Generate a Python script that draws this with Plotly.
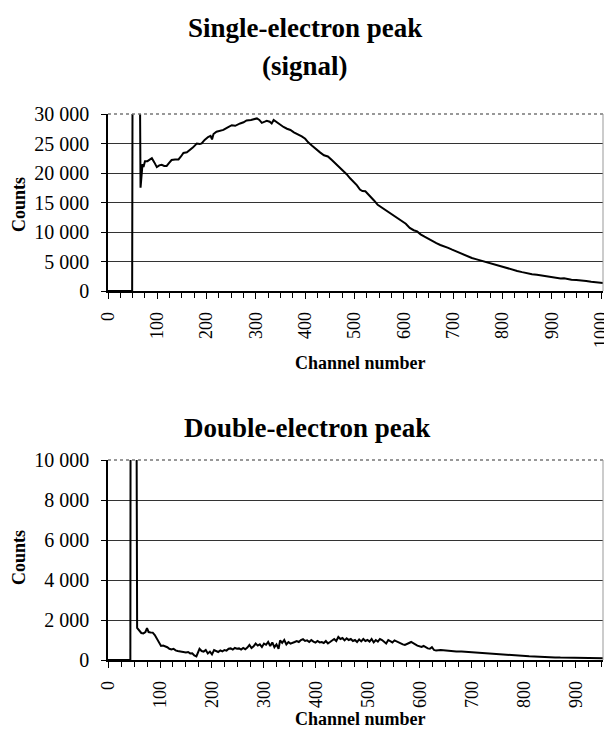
import plotly.graph_objects as go

# ---------------- data ----------------
single_channel = [0, 49, 50, 64, 66, 68, 70, 72, 75, 80, 85, 89, 94, 99, 104, 109, 114, 119, 124, 129,
                  136, 143, 148, 153, 160, 166, 172, 180, 186, 190, 196, 203, 208, 211, 214, 220, 227, 234,
                  242, 251, 258, 264, 268, 275, 281, 290, 296, 302, 307, 312, 318, 322, 328, 332, 336, 342,
                  349, 356, 363, 370, 377, 385, 393, 400, 406, 414, 422, 430, 438, 446, 454, 462, 470, 477,
                  484, 491, 498, 505, 511, 516, 522, 528, 534, 540, 547, 556, 563, 570, 578, 586, 595, 604,
                  612, 620, 627, 634, 642, 650, 658, 666, 674, 682, 690, 698, 706, 714, 722, 730, 738, 746,
                  754, 762, 772, 780, 790, 800, 810, 820, 830, 840, 850, 860, 870, 880, 890, 900, 910, 918,
                  925, 932, 940, 950, 960, 970, 980, 990, 1000, 1004]
single_counts = [0, 0, 45000, 45000, 17500, 20500, 21500, 21000, 22000, 22000, 22200, 22500, 21800, 21000,
                 21300, 21400, 21200, 21200, 21700, 22200, 22300, 22300, 22800, 23400, 23500, 23900, 24300,
                 25000, 24900, 25000, 25600, 26100, 26300, 25700, 26600, 27000, 27100, 27300, 27700, 28100,
                 28000, 28300, 28400, 28600, 28900, 29000, 29100, 29250, 29000, 28500, 28700, 28850, 28700,
                 28400, 29000, 28600, 28150, 27800, 27500, 27300, 26900, 26600, 26200, 25800, 25200, 24600,
                 24000, 23500, 23000, 22800, 22200, 21600, 20900, 20400, 19800, 19100, 18500, 17900, 17200,
                 16950, 16900, 16400, 15900, 15300, 14600, 14100, 13700, 13200, 12800, 12300, 11900, 11400,
                 10700, 10300, 10100, 9600, 9200, 8800, 8500, 8100, 7800, 7600, 7300, 7000, 6700, 6400, 6100,
                 5800, 5600, 5400, 5200, 5000, 4850, 4600, 4300, 4100, 3800, 3600, 3400, 3200, 3000, 2850,
                 2750, 2600, 2400, 2300, 2200, 2100, 2150, 2000, 1900, 1850, 1800, 1700, 1550, 1500, 1400, 1350]

double_channel = [0, 43, 44, 53, 56, 60, 64, 68, 72, 75, 78, 82, 86, 90, 94, 98, 102, 106, 110, 114, 118,
                  122, 126, 130, 134, 138, 142, 146, 150, 154, 158, 162, 166, 170, 173, 176, 180, 184, 188,
                  192, 196, 200, 204, 208, 212, 216, 220, 224, 228, 232, 236, 240, 244, 248, 252, 256, 260,
                  264, 268, 272, 276, 280, 284, 288, 292, 296, 300, 304, 308, 312, 316, 320, 324, 328, 331,
                  335, 339, 343, 347, 351, 355, 359, 363, 367, 371, 375, 379, 383, 387, 391, 395, 399, 403,
                  407, 411, 415, 419, 423, 427, 431, 435, 439, 443, 447, 451, 455, 459, 463, 467, 471, 475,
                  479, 483, 487, 491, 495, 499, 503, 507, 511, 515, 519, 523, 527, 531, 535, 539, 543, 547,
                  551, 555, 559, 563, 567, 571, 575, 579, 583, 587, 591, 595, 599, 603, 607, 611, 615, 619,
                  623, 627, 631, 640, 650, 660, 670, 680, 690, 700, 710, 720, 730, 740, 750, 760, 770, 780,
                  790, 800, 810, 820, 830, 840, 850, 860, 870, 880, 890, 900, 910, 920, 930, 940, 952]
double_counts = [0, 0, 30000, 30000, 1600, 1450, 1350, 1330, 1400, 1590, 1400, 1380, 1370, 1250, 1080, 850,
                 700, 720, 690, 640, 560, 530, 560, 480, 450, 430, 440, 400, 380, 400, 330, 340, 230, 180,
                 380, 560, 450, 420, 500, 330, 420, 280, 500, 450, 400, 480, 430, 500, 470, 560, 580, 520,
                 600, 560, 580, 520, 600, 540, 620, 750, 600, 680, 820, 720, 780, 650, 820, 760, 900, 700,
                 880, 640, 780, 560, 980, 860, 1000, 780, 900, 820, 850, 900, 950, 900, 1000, 1040, 950, 980,
                 900, 1000, 920, 870, 950, 880, 900, 850, 950, 830, 900, 960, 1050, 950, 1150, 1050, 1100,
                 980, 1080, 1000, 1050, 950, 1000, 900, 1030, 930, 1050, 950, 1000, 920, 1050, 880, 1000,
                 920, 1050, 1000, 900, 830, 1000, 950, 880, 980, 920, 870, 800, 780, 750, 820, 850, 900, 860,
                 780, 720, 700, 650, 700, 620, 580, 560, 640, 500, 470, 500, 470, 450, 430, 420, 400, 380,
                 360, 340, 320, 300, 290, 270, 250, 240, 220, 210, 190, 180, 160, 160, 140, 130, 120, 115,
                 110, 105, 100, 100, 95, 90, 90]

single_yticks = [0, 5000, 10000, 15000, 20000, 25000, 30000]
single_yticktext = ["0", "5 000", "10 000", "15 000", "20 000", "25 000", "30 000"]
double_yticks = [0, 2000, 4000, 6000, 8000, 10000]
double_yticktext = ["0", "2 000", "4 000", "6 000", "8 000", "10 000"]

title_top = "Single-electron peak"
subtitle_top = "(signal)"
title_bottom = "Double-electron peak"
x_title = "Channel number"
y_title = "Counts"

# ---------------- figure ----------------
FONT = "Liberation Serif"
W, H = 604, 729
ML, MR, MT, MB = 108, 1, 114, 69
PH = H - MT - MB
PW = W - ML - MR


def py(ypx):
    return (H - MB - ypx) / PH


def px(xpx):
    return (xpx - ML) / PW


fig = go.Figure()
fig.add_trace(go.Scatter(x=single_channel, y=single_counts, mode="lines",
                         line=dict(color="black", width=2), xaxis="x", yaxis="y",
                         showlegend=False, hoverinfo="skip"))
fig.add_trace(go.Scatter(x=double_channel, y=double_counts, mode="lines",
                         line=dict(color="black", width=2), xaxis="x2", yaxis="y2",
                         showlegend=False, hoverinfo="skip"))

xtickfont = dict(family=FONT, size=18, color="black")
ytickfont = dict(family=FONT, size=20, color="black")

common_x = dict(showgrid=False, showline=True, linecolor="black", linewidth=1.5,
                ticks="outside", ticklen=6, tickcolor="black", tickwidth=1,
                tickangle=-90, tickfont=xtickfont, dtick=100, tick0=0,
                minor=dict(ticks="outside", ticklen=5, dtick=25, tick0=0, tickcolor="black", showgrid=False),
                zeroline=False, ticklabelstandoff=6, automargin=False, ticklabeloverflow="allow")
common_y = dict(showgrid=True, gridcolor="#333333", gridwidth=1, showline=True, linecolor="black",
                linewidth=1.5, ticks="outside", ticklen=5, tickcolor="black", tickfont=ytickfont,
                zeroline=False, ticklabelstandoff=8, automargin=False)

fig.update_layout(
    width=W, height=H,
    margin=dict(l=ML, r=MR, t=MT, b=MB),
    paper_bgcolor="white", plot_bgcolor="white",
    font=dict(family=FONT, color="black"),
    xaxis=dict(common_x, domain=[0, 1], range=[0, 1004], anchor="y"),
    yaxis=dict(common_y, domain=[py(291), 1], range=[0, 30000], anchor="x",
               tickvals=single_yticks, ticktext=single_yticktext),
    xaxis2=dict(common_x, domain=[0, 1], range=[0, 952], anchor="y2"),
    yaxis2=dict(common_y, domain=[0, py(460)], range=[0, 10000], anchor="x2",
                tickvals=double_yticks, ticktext=double_yticktext),
)

# plot-area borders (top dotted grey, right grey)
for yr in ["y", "y2"]:
    xr = "x" if yr == "y" else "x2"
    fig.add_shape(type="line", xref=f"{xr} domain", yref=f"{yr} domain", x0=0, x1=1, y0=1, y1=1,
                  line=dict(color="#777777", width=1.5, dash="dot"))
    fig.add_shape(type="line", xref=f"{xr} domain", yref=f"{yr} domain", x0=1, x1=1, y0=0, y1=1,
                  line=dict(color="#999999", width=1))

ann_bold = dict(family=FONT, color="black")
annotations = [
    dict(text=f"<b>{title_top}</b>", x=px(305), y=py(28), font=dict(ann_bold, size=27)),
    dict(text=f"<b>{subtitle_top}</b>", x=px(305), y=py(66), font=dict(ann_bold, size=27)),
    dict(text=f"<b>{title_bottom}</b>", x=px(307), y=py(428), font=dict(ann_bold, size=27)),
    dict(text=f"<b>{x_title}</b>", x=px(360), y=py(363), font=dict(ann_bold, size=18)),
    dict(text=f"<b>{x_title}</b>", x=px(360), y=py(719), font=dict(ann_bold, size=18)),
    dict(text=f"<b>{y_title}</b>", x=px(19), y=py(205), font=dict(ann_bold, size=18), textangle=-90),
    dict(text=f"<b>{y_title}</b>", x=px(19), y=py(558), font=dict(ann_bold, size=18), textangle=-90),
]
for a in annotations:
    a.update(xref="paper", yref="paper", showarrow=False, xanchor="center", yanchor="middle")
fig.update_layout(annotations=annotations)

fig.write_html("out.html", config={"displayModeBar": False},
               post_script="document.body.style.margin='0';document.body.style.overflow='hidden';")
